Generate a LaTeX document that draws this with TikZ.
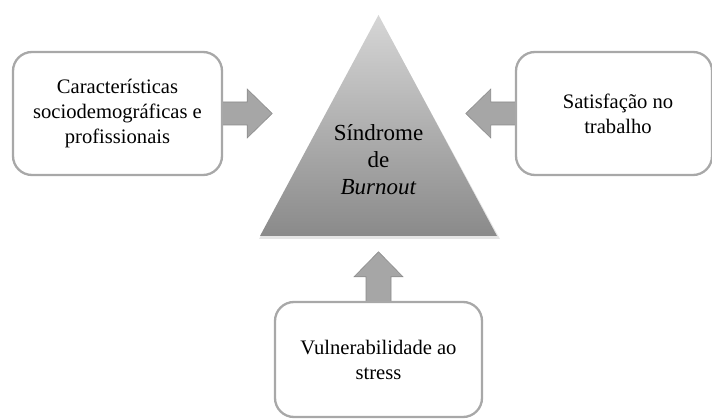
\documentclass[tikz,border=0pt]{standalone}
\usepackage{fontspec}
\setmainfont{Liberation Serif}
\usetikzlibrary{calc}
\definecolor{boxline}{RGB}{168,168,168}
\definecolor{arrfill}{RGB}{166,166,166}
\definecolor{arrline}{RGB}{140,140,140}
\definecolor{tritop}{RGB}{214,214,214}
\definecolor{tribot}{RGB}{138,138,138}
\tikzset{
  factorbox/.style={draw=boxline, line width=2.3pt, fill=white, rounded corners=19pt,
    align=center, inner sep=0pt, font=\fontsize{20.6}{25}\selectfont},
  boxtext/.style={align=center, inner sep=0pt, font=\fontsize{20.6}{25}\selectfont},
  blockarrow/.style={fill=arrfill, draw=arrline, line width=0.6pt, line join=miter},
  tritext/.style={align=center, inner sep=0pt, font=\fontsize{23}{27}\selectfont}
}
\begin{document}
\begin{tikzpicture}[x=1pt,y=-1pt]
\useasboundingbox (0,0) rectangle (712,419);
% triangle
\coordinate (apex) at (378.5,15);
\coordinate (bl) at (260,236);
\coordinate (br) at (497,236);
\fill[black,opacity=0.10] ($(apex)+(1,3)$) -- ($(br)+(3,3)$) -- ($(bl)+(-1,3)$) -- cycle;
\shade[top color=tritop, bottom color=tribot] (apex) -- (br) -- (bl) -- cycle;
\node[tritext] (T) at (378.5,160) {Síndrome\\de\\\textit{Burnout}};
% box positions
\path (117.5,113.5) node[minimum width=209pt, minimum height=123pt, inner sep=0pt] (L) {};
\path (614,113.5) node[minimum width=196pt, minimum height=123pt, inner sep=0pt] (R) {};
\path (378.5,359.5) node[minimum width=207pt, minimum height=115pt, inner sep=0pt] (B) {};
% arrows
\draw[blockarrow] ($(L.east)+(-2,-11.5)$) -- ($(L.east)+(25,-11.5)$) -- ($(L.east)+(25,-24.5)$)
  -- ($(L.east)+(50,0)$) -- ($(L.east)+(25,24.5)$) -- ($(L.east)+(25,11.5)$) -- ($(L.east)+(-2,11.5)$) -- cycle;
\draw[blockarrow] ($(R.west)+(2,-11.5)$) -- ($(R.west)+(-25,-11.5)$) -- ($(R.west)+(-25,-24.5)$)
  -- ($(R.west)+(-50,0)$) -- ($(R.west)+(-25,24.5)$) -- ($(R.west)+(-25,11.5)$) -- ($(R.west)+(2,11.5)$) -- cycle;
\draw[blockarrow] ($(B.north)+(-12.5,2)$) -- ($(B.north)+(-12.5,-25)$) -- ($(B.north)+(-24.5,-25)$)
  -- ($(B.north)+(0,-50)$) -- ($(B.north)+(24.5,-25)$) -- ($(B.north)+(12.5,-25)$) -- ($(B.north)+(12.5,2)$) -- cycle;
% boxes
\node[factorbox, minimum width=209pt, minimum height=123pt] (L1) at (L) {Características\\sociodemográficas e\\profissionais};
\node[factorbox, minimum width=196pt, minimum height=123pt] (R1) at (R) {};
\node[boxtext] (RT) at ($(R)+(4,0)$) {Satisfação no\\trabalho};
\node[factorbox, minimum width=207pt, minimum height=115pt] (B1) at (B) {Vulnerabilidade ao\\stress};
\end{tikzpicture}
\end{document}
